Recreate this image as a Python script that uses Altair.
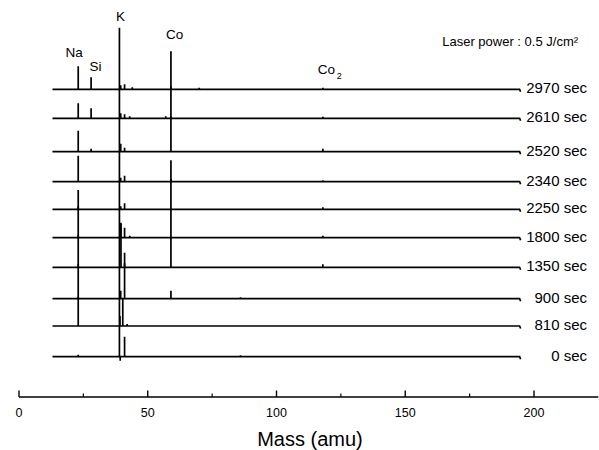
import altair as alt
import pandas as pd

# ---- data ----
traces = ["2970 sec", "2610 sec", "2520 sec", "2340 sec", "2250 sec",
          "1800 sec", "1350 sec", "900 sec", "810 sec", "0 sec"]
offsets = [360.7, 331.7, 298.3, 268.3, 240.7, 212.3, 182.7, 151.3, 124.0, 93.3]

# (mass, intensity) spikes per spectrum
peaks = {
    "2970 sec": [(23, 23), (28, 12), (39.5, 4), (41, 5), (44, 2), (59, 38), (70, 1.5), (118, 1.5)],
    "2610 sec": [(23, 15), (28, 10), (39.5, 5), (41, 4), (43, 2), (57, 2), (59, 32), (118, 1.5)],
    "2520 sec": [(23, 21), (28, 3), (39.5, 8), (41, 4), (59, 36), (118, 3)],
    "2340 sec": [(23, 26), (39.5, 4), (41, 6), (59, 3), (118, 1.5)],
    "2250 sec": [(23, 3), (39.5, 3), (41, 6), (118, 2)],
    "1800 sec": [(23, 3), (39.5, 15), (41, 10), (43, 2), (118, 2)],
    "1350 sec": [(23, 3), (39.6, 44), (41, 4), (59, 107), (118, 3)],
    "900 sec": [(23, 2), (39.5, 8), (41, 46), (59, 8), (86, 1.5)],
    "810 sec": [(23, 136), (39.2, 10), (40.3, 28), (42, 2)],
    "0 sec": [(23, 2), (39, 329), (39.3, -4), (41, 20), (86, 1.5)],
}
mass_start, mass_end = 13.0, 194.4

element_labels = ["Na", "Si", "K", "Co", "Co"]
element_mass = [21.4, 29.7, 39.4, 60.4, 119.4]
element_level = [397, 383.3, 433.3, 415.3, 380]

major_ticks = [0, 50, 100, 150, 200]
minor_ticks = [25, 75, 125, 175]
axis_max = 225

# ---- build tables ----
rows = []
for name, off in zip(traces, offsets):
    pts = [(mass_start, 0.0)]
    for m, h in sorted(peaks[name]):
        pts += [(m, 0.0), (m, h), (m, 0.0)]
    pts += [(mass_end, 0.0), (mass_end + 0.4, -2.5)]
    for i, (m, v) in enumerate(pts):
        rows.append({"trace": name, "idx": i, "mass": m, "y": off + v})
spec = pd.DataFrame(rows)

AXIS_Y = 53
xs = alt.Scale(domain=[-7.379, 225.24], nice=False, zero=False)
ys = alt.Scale(domain=[0, 450], nice=False, zero=False)
FONT = "Liberation Sans"

lines = alt.Chart(spec).mark_line(color="black", strokeWidth=1.7, interpolate="linear").encode(
    x=alt.X("mass:Q", scale=xs, axis=None),
    y=alt.Y("y:Q", scale=ys, axis=None),
    detail="trace:N",
    order="idx:Q",
)

lab_df = pd.DataFrame({"trace": traces, "y": [o + 1 for o in offsets], "x": [220.6] * len(traces)})
trace_labels = alt.Chart(lab_df).mark_text(
    align="right", baseline="middle", font=FONT, fontSize=15, color="black"
).encode(x=alt.X("x:Q", scale=xs), y=alt.Y("y:Q", scale=ys), text="trace:N")

el_df = pd.DataFrame({"t": element_labels, "x": element_mass, "y": element_level})
el_text = alt.Chart(el_df).mark_text(
    align="center", baseline="middle", font=FONT, fontSize=13.5, color="black"
).encode(x=alt.X("x:Q", scale=xs), y=alt.Y("y:Q", scale=ys), text="t:N")

sub_df = pd.DataFrame({"t": ["2"], "x": [124.4], "y": [374.5]})
sub_text = alt.Chart(sub_df).mark_text(
    align="center", baseline="middle", font=FONT, fontSize=9, color="black"
).encode(x=alt.X("x:Q", scale=xs), y=alt.Y("y:Q", scale=ys), text="t:N")

laser_df = pd.DataFrame({"t": ["Laser power : 0.5 J/cm²"], "x": [217.1], "y": [408.5]})
laser_text = alt.Chart(laser_df).mark_text(
    align="right", baseline="middle", font=FONT, fontSize=13, color="black"
).encode(x=alt.X("x:Q", scale=xs), y=alt.Y("y:Q", scale=ys), text="t:N")

# axis line
axis_df = pd.DataFrame({"x": [0], "x2": [axis_max], "y": [AXIS_Y]})
axis_line = alt.Chart(axis_df).mark_rule(color="black", strokeWidth=1.7).encode(
    x=alt.X("x:Q", scale=xs), x2="x2:Q", y=alt.Y("y:Q", scale=ys))

maj_df = pd.DataFrame({"x": major_ticks, "y": [AXIS_Y] * 5, "y2": [AXIS_Y + 6.5] * 5,
                       "lab": [str(v) for v in major_ticks], "ly": [37] * 5})
maj = alt.Chart(maj_df).mark_rule(color="black", strokeWidth=1.4).encode(
    x=alt.X("x:Q", scale=xs), y=alt.Y("y:Q", scale=ys), y2="y2:Q")
maj_lab = alt.Chart(maj_df).mark_text(
    align="center", baseline="middle", font=FONT, fontSize=12.5, color="black"
).encode(x=alt.X("x:Q", scale=xs), y=alt.Y("ly:Q", scale=ys), text="lab:N")

min_df = pd.DataFrame({"x": minor_ticks, "y": [AXIS_Y] * 4, "y2": [AXIS_Y + 3.5] * 4})
mnr = alt.Chart(min_df).mark_rule(color="black", strokeWidth=1.2).encode(
    x=alt.X("x:Q", scale=xs), y=alt.Y("y:Q", scale=ys), y2="y2:Q")

title_df = pd.DataFrame({"t": ["Mass (amu)"], "x": [113], "y": [10]})
title = alt.Chart(title_df).mark_text(
    align="center", baseline="middle", font=FONT, fontSize=20, color="black"
).encode(x=alt.X("x:Q", scale=xs), y=alt.Y("y:Q", scale=ys), text="t:N")

chart = alt.layer(
    lines, trace_labels, el_text, sub_text, laser_text, axis_line, maj, mnr, maj_lab, title
).properties(
    width=599, height=450,
    autosize=alt.AutoSizeParams(type="none"),
    padding=0,
    background="white",
).configure_view(stroke=None)

chart.save("out.html", embed_options={"renderer": "svg", "actions": False})
